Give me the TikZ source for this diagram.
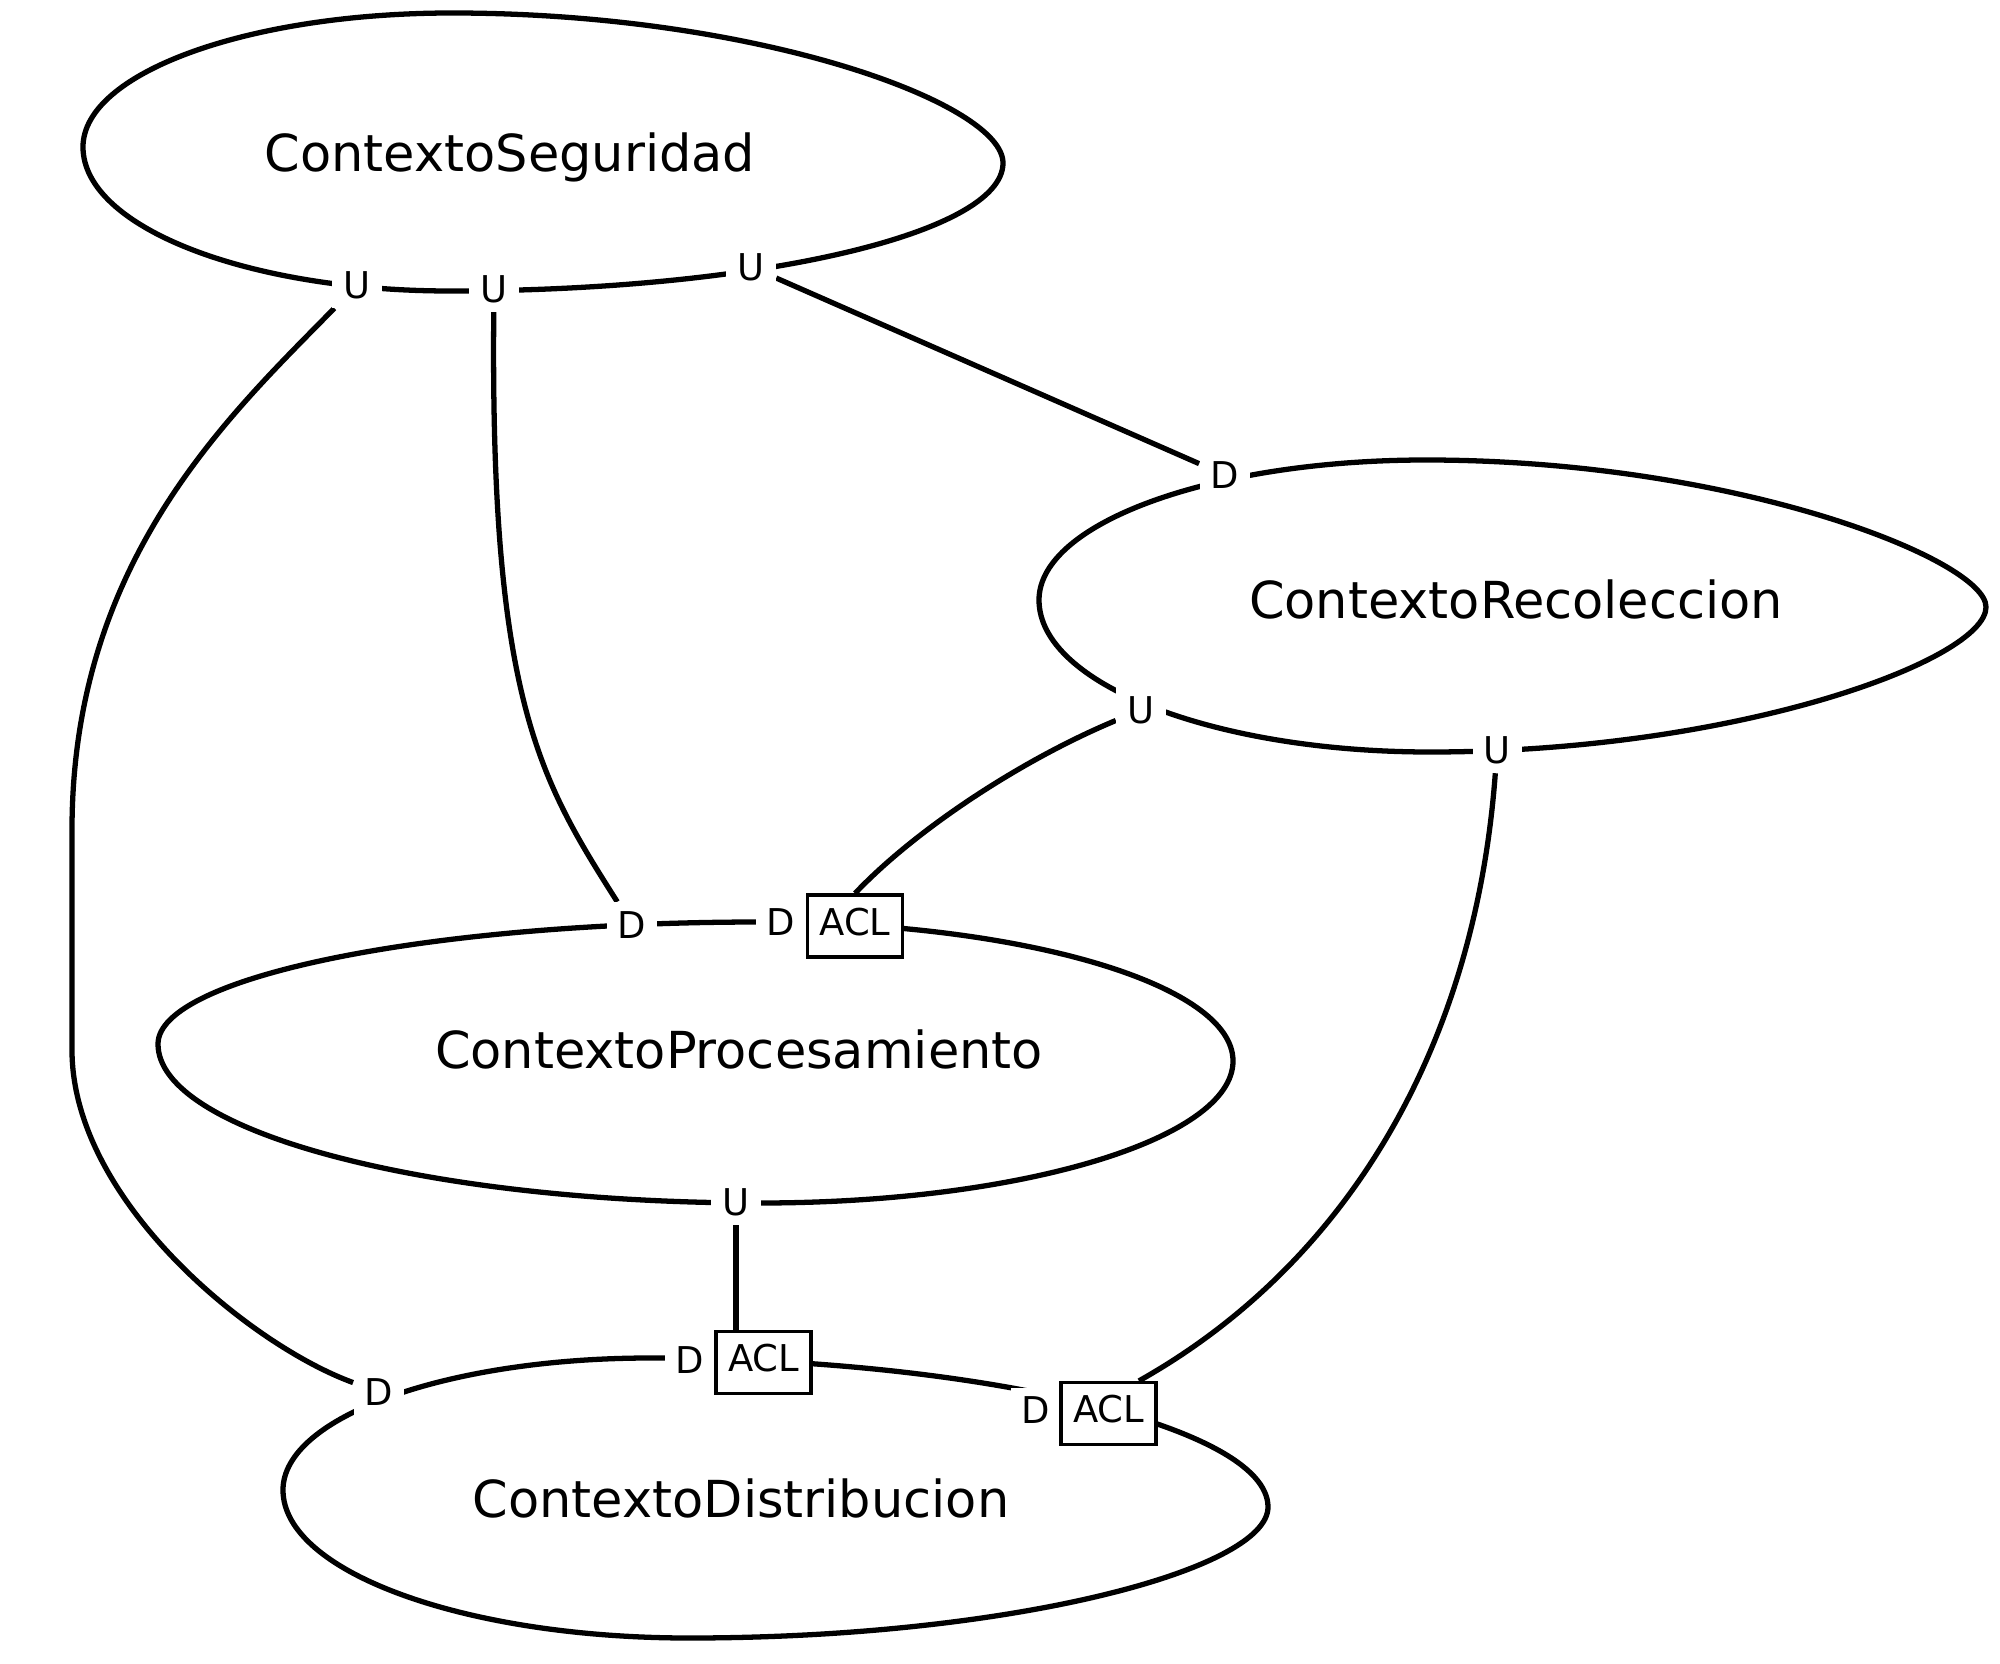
\documentclass[tikz,border=0pt]{standalone}
\usepackage{fontspec}
\setmainfont{DejaVu Sans}
\pgfdeclarelayer{bg}
\pgfsetlayers{bg,main}
\begin{document}
\begin{tikzpicture}[x=0.01cm,y=-0.01cm,
  edge/.style={line width=1.5pt, line join=round},
  ctx/.style={anchor=base, inner sep=0pt, font=\fontsize{14.5pt}{17pt}\selectfont},
  role/.style={fill=white, inner xsep=0.11cm, inner ysep=0.09cm,
    text height=0.27cm, text depth=0cm, font=\fontsize{10.5pt}{12pt}\selectfont},
  acl/.style={draw, fill=white, line width=0.9pt, minimum width=0.95cm,
    minimum height=0.62cm, inner sep=0pt, text height=0.27cm, text depth=0.09cm,
    font=\fontsize{10.5pt}{12pt}\selectfont}]
\useasboundingbox (0,0) rectangle (2000,1664);

% context names
\node[ctx] (seg) at (510,172)   {ContextoSeguridad};
\node[ctx] (rec) at (1516,618)  {ContextoRecoleccion};
\node[ctx] (pro) at (739,1068)  {ContextoProcesamiento};
\node[ctx] (dis) at (741,1517)  {ContextoDistribucion};

% upstream / downstream markers
\node[role] (u1)    at (357,285)   {U};
\node[role] (u2)    at (494,289)   {U};
\node[role] (u3)    at (751,267)   {U};
\node[role] (drec)  at (1225,475)  {D};
\node[role] (urec1) at (1141,710)  {U};
\node[role] (urec2) at (1497,750)  {U};
\node[role] (dp1)   at (632,925)   {D};
\node[role] (dp2)   at (781,922)   {D};
\node[role] (up)    at (736,1202)  {U};
\node[role] (dd1)   at (379,1392)  {D};
\node[role] (dd2)   at (690,1360)  {D};
\node[role] (dd3)   at (1036,1410) {D};

% anticorruption layers
\node[acl] (aclp) at (855,926)       {ACL};
\node[acl] (acl1) at (763.5,1362.5)  {ACL};
\node[acl] (acl2) at (1108.5,1413.5) {ACL};

\begin{pgfonlayer}{bg}
% context outlines
\draw[edge] (83,147) .. controls (83,73) and (248,13) .. (452,13)
  .. controls (756,13) and (1003,103) .. (1003,163)
  .. controls (1003,234) and (755,291) .. (450,291)
  .. controls (247,291) and (83,227) .. cycle;
\draw[edge] (1039,600) .. controls (1039,523) and (1212,460) .. (1426,460)
  .. controls (1735,460) and (1986,560) .. (1986,607)
  .. controls (1986,660) and (1737,752) .. (1430,752)
  .. controls (1214,752) and (1039,684) .. cycle;
\draw[edge] (158,1044) .. controls (158,977) and (428,922) .. (760,922)
  .. controls (1021,922) and (1233,984) .. (1233,1061)
  .. controls (1233,1139) and (1021,1203) .. (760,1203)
  .. controls (428,1203) and (158,1132) .. cycle;
\draw[edge] (283,1490) .. controls (283,1417) and (447,1358) .. (650,1358)
  .. controls (970,1358) and (1268,1425) .. (1268,1507)
  .. controls (1268,1570) and (1009,1638) .. (689,1638)
  .. controls (465,1638) and (283,1572) .. cycle;

% relationships
\draw[edge] (u1) .. controls (230,415) and (72,560) .. (72,830)
  -- (72,1050) .. controls (72,1200) and (250,1345) .. (dd1);
\draw[edge] (u2) .. controls (490,700) and (540,780) .. (dp1);
\draw[edge] (u3) -- (drec);
\draw[edge] (urec1) .. controls (1021,760) and (915,830) .. (aclp.north);
\draw[edge] (urec2) .. controls (1475,1050) and (1345,1265) .. (acl2.47);
\draw[edge] (up) -- (up |- acl1.north);
\end{pgfonlayer}
\end{tikzpicture}
\end{document}
